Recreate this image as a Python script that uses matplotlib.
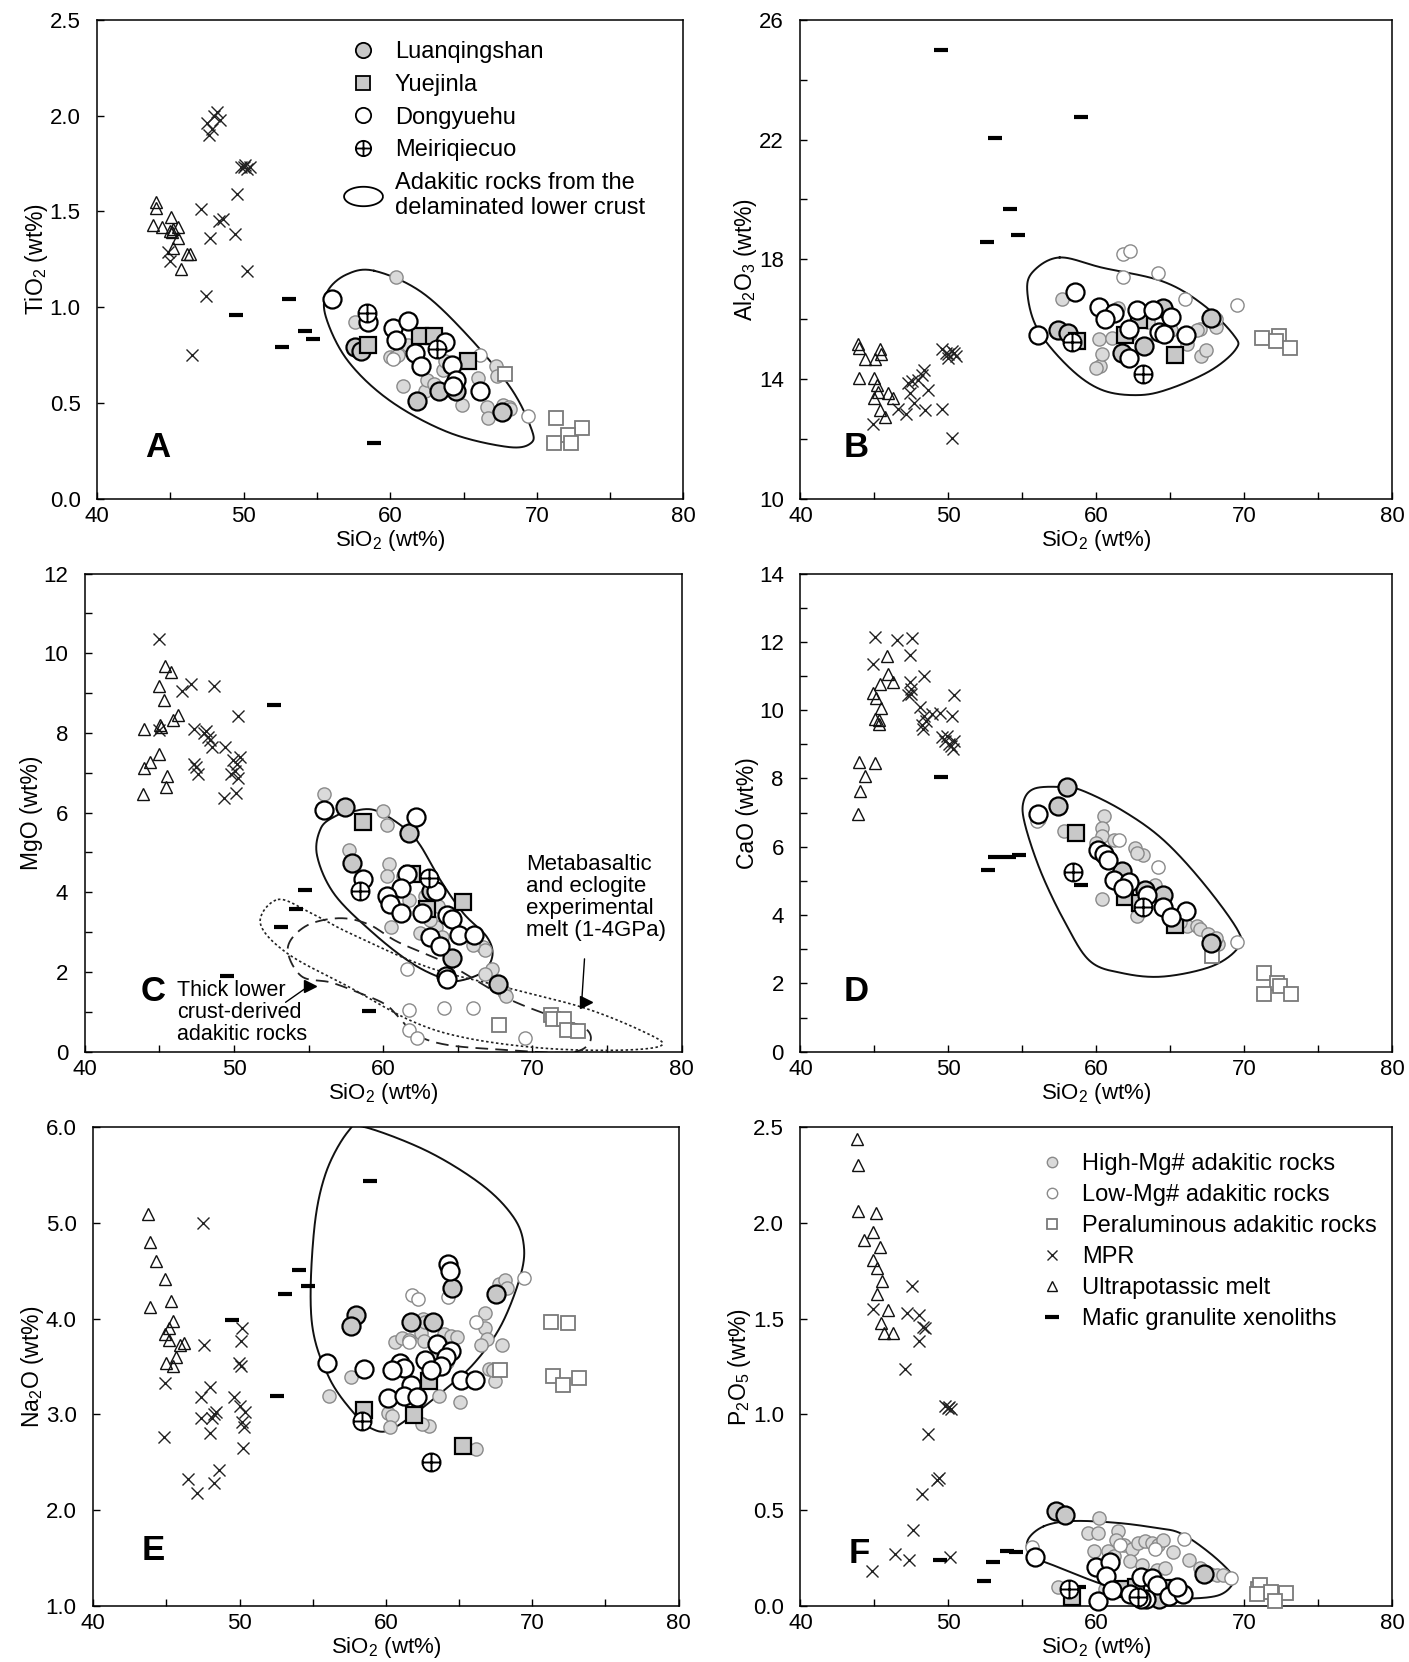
import numpy as np
import matplotlib
matplotlib.use("Agg")
import matplotlib.pyplot as plt
from matplotlib.path import Path
from matplotlib.lines import Line2D

plt.rcParams['font.family'] = ['Liberation Sans', 'DejaVu Sans']
plt.rcParams['mathtext.fontset'] = 'custom'
plt.rcParams['mathtext.rm'] = 'Liberation Sans'
plt.rcParams['mathtext.it'] = 'Liberation Sans'
plt.rcParams['mathtext.bf'] = 'Liberation Sans:bold'

# ---------------- data (SiO2, oxide) ----------------
# A  TiO2
tio2_hmg = [(60.4,1.16),(57.6,0.92),(60.0,0.74),(60.3,0.74),(60.5,0.75),(60.9,0.59),(61.9,0.72),(62.4,0.56),(62.5,0.62),(63.6,0.67),(63.7,0.72),(64.0,0.69),(64.9,0.49),(66.0,0.63),(67.2,0.69),(67.3,0.64),(66.6,0.48),(66.7,0.42),(67.7,0.49),(68.1,0.48),(68.2,0.47),(61.2,0.80),(63.0,0.60)]
tio2_lmg = [(66.1,0.75),(69.4,0.43),(60.2,0.73),(64.5,0.57)]
tio2_per = [(67.8,0.65),(71.3,0.42),(73.1,0.37),(72.1,0.33),(72.3,0.29),(71.2,0.29)]
tio2_mpr = [(47.5,1.96),(47.8,1.93),(48.0,2.0),(48.2,2.02),(48.4,1.98),(47.6,1.90),(49.8,1.73),(50.0,1.73),(50.1,1.74),(50.2,1.72),(50.4,1.73),(49.55,1.59),(47.1,1.51),(48.3,1.45),(48.6,1.46),(49.4,1.38),(47.7,1.36),(44.8,1.29),(45.0,1.24),(50.2,1.19),(47.4,1.06),(46.5,0.75)]
tio2_upm = [(44.0,1.55),(44.0,1.52),(43.8,1.43),(44.4,1.42),(45.05,1.47),(44.97,1.40),(45.2,1.41),(45.5,1.42),(45.1,1.39),(45.5,1.36),(45.2,1.31),(46.1,1.28),(46.3,1.28),(45.7,1.20)]
tio2_mgx = [(53.1,1.04),(49.5,0.96),(54.15,0.875),(54.7,0.836),(52.6,0.79),(58.9,0.29)]
tio2_lqs = [(57.6,0.79),(58.0,0.77),(61.8,0.51),(63.3,0.56),(64.5,0.56),(67.6,0.45)]
tio2_yjl = [(58.5,0.80),(62.0,0.85),(63.0,0.85),(65.3,0.72)]
tio2_dyh = [(56.0,1.04),(58.5,0.92),(60.2,0.89),(61.2,0.93),(60.4,0.83),(61.7,0.76),(62.1,0.69),(63.7,0.82),(64.2,0.70),(64.5,0.62),(64.3,0.59),(66.1,0.56)]
tio2_mrq = [(58.4,0.97),(63.2,0.78)]
tio2_field = [(58.9,1.19),(62.1,1.08),(65.3,0.85),(68.2,0.58),(69.6,0.37),(69.6,0.29),(68.0,0.27),(64.0,0.345),(60.0,0.51),(57.1,0.72),(55.6,0.95),(55.7,1.08),(57.0,1.17)]

# B  Al2O3
al_hmg = [(57.67,16.67),(60.22,15.34),(61.1,15.36),(60.27,14.43),(60.4,14.83),(60.0,14.37),(66.99,15.68),(66.85,15.62),(68.08,15.73),(67.12,14.77),(67.4,14.96),(65.07,15.62),(66.16,15.17),(61.5,16.36),(63.5,15.9),(62.3,15.5)]
al_lmg = [(61.78,18.17),(62.27,18.26),(61.78,17.40),(64.19,17.55),(66.03,16.66),(69.53,16.47),(68.08,16.02)]
al_per = [(71.23,15.36),(72.33,15.43),(72.14,15.28),(73.1,15.02)]
al_mpr = [(44.93,12.50),(46.63,13.0),(47.12,12.84),(47.26,13.86),(47.53,13.92),(47.95,13.97),(48.22,14.14),(48.36,14.31),(47.4,13.52),(47.67,13.18),(48.4,12.95),(48.63,13.63),(49.59,13.0),(50.27,12.02),(49.6,14.99),(49.86,14.88),(50.0,14.82),(50.22,14.94),(50.41,14.86),(50.55,14.77),(50.0,14.71)]
al_upm = [(43.92,15.16),(43.97,15.05),(45.40,14.99),(45.48,14.82),(44.38,14.65),(45.07,14.65),(43.97,14.03),(45.0,14.03),(45.15,13.8),(45.26,13.58),(45.9,13.52),(46.25,13.35),(45.0,13.35),(45.35,12.95),(45.75,12.72)]
al_mgx = [(49.53,25.0),(58.99,22.75),(53.15,22.05),(54.16,19.68),(54.74,18.82),(52.63,18.57)]
al_lqs = [(57.4,15.62),(58.08,15.54),(61.73,14.88),(63.2,15.1),(64.52,16.36),(67.73,16.04)]
al_yjl = [(58.71,15.28),(61.92,15.47),(62.88,15.96),(65.34,14.79)]
al_dyh = [(56.08,15.47),(58.58,16.92),(60.19,16.41),(61.23,16.19),(60.6,16.0),(62.74,16.3),(63.84,16.3),(65.07,16.07),(62.19,15.68),(64.25,15.56),(64.6,15.5),(66.08,15.47),(62.19,14.71)]
al_mrq = [(58.36,15.24),(63.15,14.18)]
al_field = [(57.53,18.06),(60.4,17.72),(64.5,17.26),(67.26,16.47),(69.32,15.45),(69.45,15.0),(67.8,14.3),(65.07,13.69),(62.9,13.46),(60.4,13.63),(58.2,14.37),(56.03,15.67),(55.34,16.92),(55.75,17.6)]

# C  MgO
mgo_hmg = [(56.0,6.46),(60.0,6.03),(60.26,5.69),(57.7,5.06),(60.39,4.72),(60.26,4.42),(61.7,3.82),(60.52,3.12),(62.43,2.97),(63.53,3.14),(63.92,2.89),(66.66,2.63),(66.8,2.55),(66.01,2.68),(67.32,2.08),(66.8,1.95),(68.1,1.49),(68.24,1.40),(63.66,3.65),(63.14,3.31),(61.3,4.4),(62.8,3.9)]
mgo_lmg = [(61.57,2.08),(61.75,1.04),(64.1,1.10),(66.01,1.10),(61.75,0.55),(62.27,0.34),(69.49,0.34)]
mgo_per = [(67.76,0.68),(71.24,0.93),(71.37,0.81),(72.1,0.83),(72.29,0.55),(73.07,0.51)]
mgo_mpr = [(44.97,10.35),(47.11,9.24),(46.48,9.05),(48.63,9.18),(50.25,8.43),(47.32,8.11),(47.97,7.99),(48.24,7.9),(48.37,7.82),(48.5,7.65),(48.1,8.05),(44.97,8.07),(49.41,7.65),(47.32,7.22),(47.45,7.14),(47.58,6.97),(49.93,7.31),(50.2,7.22),(50.07,7.05),(50.41,7.39),(49.8,6.97),(50.25,6.88),(49.36,6.37),(50.14,6.5)]
mgo_upm = [(45.36,9.69),(45.75,9.53),(44.97,9.18),(45.28,8.82),(43.97,8.11),(45.02,8.2),(45.1,8.16),(45.88,8.33),(46.27,8.45),(44.97,7.48),(44.39,7.26),(43.97,7.12),(45.49,6.92),(45.44,6.64),(43.87,6.46)]
mgo_mgx = [(52.68,8.69),(54.77,4.06),(54.12,3.59),(53.15,3.13),(49.54,1.91),(59.03,1.02)]
mgo_lqs = [(57.46,6.14),(61.7,5.5),(57.9,4.73),(63.2,4.04),(64.58,2.34),(67.71,1.70)]
mgo_yjl = [(58.61,5.76),(61.9,4.46),(65.36,3.76),(62.95,3.57)]
mgo_dyh = [(56.0,6.06),(62.22,5.9),(58.61,4.33),(61.57,4.46),(61.18,4.12),(60.26,3.91),(60.47,3.71),(61.18,3.48),(63.53,4.04),(64.26,3.44),(64.58,3.34),(63.14,2.89),(63.79,2.65),(65.1,2.93),(66.09,2.93),(64.18,1.91),(64.3,1.83),(62.6,3.48)]
mgo_mrq = [(58.43,4.04),(63.06,4.35)]
mgo_field = [(57.52,5.99),(59.35,6.07),(61.44,5.61),(62.48,5.18),(63.79,4.33),(65.36,3.48),(66.93,2.89),(67.32,2.42),(66.67,2.0),(65.1,1.78),(64.05,1.83),(61.96,2.21),(59.35,2.97),(56.73,3.95),(55.56,4.93),(55.82,5.61),(56.73,5.9)]
mgo_melt = [(52.94,3.82),(55.16,3.48),(57.78,2.97),(63.0,2.12),(68.24,1.61),(73.46,1.10),(77.4,0.51),(78.69,0.17),(76.08,0.04),(70.85,0.085),(65.62,0.34),(61.96,0.76),(57.78,1.61),(53.6,2.46),(51.76,3.23)]
mgo_thick = [(53.6,2.6),(54.8,3.15),(57.0,3.35),(59.0,3.2),(61.0,2.75),(64.3,2.21),(68.2,1.36),(71.6,0.85),(73.5,0.6),(73.85,0.25),(72.5,-0.02),(68.0,0.05),(64.3,0.17),(62.22,0.42),(61.18,0.81),(60.13,1.19),(58.3,1.49),(56.47,1.74),(54.5,1.9)]

# D  CaO
cao_hmg = [(60.55,6.89),(60.36,6.56),(60.41,6.31),(57.81,6.46),(61.23,6.21),(62.6,5.97),(63.15,5.77),(62.74,5.82),(60.41,4.48),(63.97,4.88),(66.16,3.69),(66.85,3.69),(66.99,3.59),(67.53,3.44),(68.22,3.14),(68.08,3.34),(64.52,4.43),(64.8,4.13),(62.74,3.98),(60.0,6.12),(56.1,6.8),(65.7,3.8)]
cao_lmg = [(61.51,6.19),(64.19,5.4),(69.53,3.22),(56.03,6.76)]
cao_per = [(67.81,2.79),(71.32,2.30),(72.25,2.0),(72.41,1.93),(71.37,1.70),(73.15,1.70)]
cao_mpr = [(45.01,12.14),(44.88,11.35),(46.52,12.04),(47.53,12.11),(47.4,11.62),(48.36,11.0),(47.4,10.82),(47.48,10.62),(47.26,10.43),(47.48,10.48),(48.08,10.08),(48.36,9.83),(48.22,9.58),(48.3,9.44),(48.49,9.68),(48.9,9.88),(49.45,9.93),(50.22,9.83),(50.36,10.43),(49.6,9.2),(49.75,9.1),(49.9,9.25),(50.05,9.0),(50.15,8.95),(50.3,8.85),(50.4,9.1)]
cao_upm = [(45.84,11.59),(45.9,11.07),(46.25,10.82),(45.4,10.77),(44.93,10.5),(45.12,10.36),(45.48,10.06),(45.01,9.73),(45.34,9.7),(45.29,9.6),(43.97,8.49),(45.01,8.44),(44.38,8.07),(44.03,7.62),(43.89,6.96)]
cao_mgx = [(49.53,8.05),(52.68,5.32),(53.15,5.69),(54.11,5.69),(54.79,5.77),(58.99,4.88)]
cao_lqs = [(58.0,7.75),(57.4,7.19),(61.73,5.29),(63.29,4.73),(64.52,4.58),(67.73,3.19)]
cao_yjl = [(58.63,6.41),(61.92,4.53),(62.96,4.35),(65.34,3.72)]
cao_dyh = [(56.08,6.96),(60.14,5.92),(60.55,5.8),(60.82,5.62),(61.23,5.02),(62.19,4.97),(63.42,4.58),(64.52,4.23),(66.08,4.13),(61.78,4.78),(65.07,3.93)]
cao_mrq = [(58.44,5.27),(63.15,4.23)]
cao_field = [(57.67,7.75),(59.04,7.65),(61.78,7.06),(64.52,6.21),(67.26,4.93),(69.59,3.54),(69.59,3.04),(67.81,2.50),(64.52,2.20),(61.78,2.30),(59.59,2.65),(57.95,3.74),(56.3,5.22),(55.21,6.61),(55.07,7.3),(55.8,7.7)]

# E  Na2O
na_hmg = [(56.08,3.19),(57.63,3.39),(60.6,3.76),(61.1,3.8),(61.6,3.78),(62.4,3.85),(62.6,3.77),(62.5,4.0),(62.7,3.97),(64.0,3.84),(64.48,3.82),(64.88,3.81),(66.75,4.06),(66.8,3.9),(66.93,3.79),(66.53,3.73),(67.07,3.47),(67.47,3.35),(67.33,3.46),(67.92,3.73),(67.73,4.36),(68.13,4.4),(68.27,4.32),(63.6,3.19),(65.07,3.13),(60.13,3.02),(60.4,2.98),(60.27,2.87),(62.93,2.88),(62.48,2.9),(66.13,2.64),(63.3,3.6),(64.2,3.55)]
na_lmg = [(61.79,4.25),(62.2,4.21),(64.27,4.23),(69.47,4.42),(66.13,3.97),(61.6,3.76)]
na_per = [(71.28,3.97),(72.45,3.95),(67.81,3.46),(71.39,3.40),(72.13,3.31),(73.2,3.38)]
na_mpr = [(47.47,5.0),(47.6,3.73),(44.93,3.33),(44.8,2.76),(47.95,3.29),(47.33,3.18),(47.33,2.96),(48.0,2.81),(48.27,3.0),(48.4,3.03),(48.13,2.96),(50.13,3.9),(50.08,3.77),(49.95,3.54),(50.08,3.51),(49.6,3.18),(50.0,3.09),(50.4,3.03),(50.13,2.92),(50.27,2.87),(50.21,2.65),(46.48,2.33),(47.12,2.18),(48.27,2.28),(48.61,2.42)]
na_upm = [(43.73,5.09),(43.87,4.80),(44.27,4.60),(44.93,4.41),(43.87,4.12),(45.28,4.18),(45.47,3.98),(45.2,3.9),(44.88,3.84),(45.15,3.78),(45.95,3.73),(46.21,3.75),(45.68,3.6),(44.99,3.54),(45.47,3.51)]
na_mgx = [(58.93,5.44),(54.08,4.51),(54.67,4.34),(53.07,4.26),(49.47,3.99),(52.59,3.19)]
na_lqs = [(57.95,4.04),(57.6,3.92),(64.53,4.32),(67.55,4.26),(61.68,3.97),(63.2,3.97)]
na_yjl = [(58.53,3.05),(62.93,3.35),(61.95,2.99),(65.25,2.67)]
na_dyh = [(55.95,3.54),(58.48,3.47),(64.27,4.57),(64.35,4.5),(63.47,3.74),(64.48,3.66),(64.13,3.6),(63.73,3.51),(62.67,3.57),(63.07,3.46),(60.93,3.54),(61.25,3.49),(60.4,3.46),(61.68,3.31),(60.13,3.17),(61.25,3.19),(62.13,3.18),(65.15,3.36),(66.08,3.36)]
na_mrq = [(58.35,2.93),(63.07,2.5)]
na_field = [(58.53,6.0),(62.8,5.75),(66.53,5.40),(68.67,5.07),(69.41,4.78),(69.2,4.45),(67.87,3.93),(66.0,3.53),(63.87,3.24),(61.73,2.98),(60.13,2.83),(59.07,2.85),(58.0,2.98),(56.13,3.38),(54.93,3.97),(55.07,4.89),(55.87,5.51),(57.4,5.95)]

# F  P2O5
p_hmg = [(60.22,0.462),(59.46,0.38),(60.14,0.38),(61.5,0.393),(59.86,0.29),(60.82,0.29),(61.36,0.344),(61.9,0.317),(62.45,0.30),(62.8,0.33),(63.3,0.34),(63.8,0.33),(64.2,0.32),(64.5,0.345),(62.31,0.236),(63.13,0.217),(64.08,0.19),(64.63,0.199),(65.17,0.281),(66.3,0.24),(67.0,0.2),(67.4,0.18),(67.7,0.17),(68.2,0.165),(68.6,0.16),(57.41,0.10),(60.6,0.09),(61.2,0.26)]
p_lmg = [(65.93,0.353),(63.95,0.299),(55.65,0.308),(69.12,0.145),(61.6,0.32)]
p_per = [(70.94,0.091),(71.1,0.109),(71.84,0.072),(72.84,0.067),(72.1,0.027),(70.89,0.063)]
p_mpr = [(47.56,1.67),(44.9,1.549),(47.21,1.53),(48.03,1.52),(48.3,1.458),(48.44,1.449),(48.03,1.386),(47.07,1.237),(49.8,1.045),(49.95,1.035),(50.05,1.04),(50.2,1.03),(48.63,0.897),(49.39,0.67),(49.25,0.66),(48.24,0.585),(47.62,0.399),(46.39,0.272),(47.35,0.241),(50.12,0.259),(44.82,0.185)]
p_upm = [(43.81,2.44),(43.89,2.30),(43.89,2.06),(45.09,2.05),(44.3,1.91),(44.9,1.95),(45.36,1.875),(44.9,1.806),(45.17,1.766),(45.52,1.694),(45.17,1.63),(45.93,1.543),(45.44,1.476),(45.63,1.426),(46.26,1.426)]
p_mgx = [(49.44,0.241),(53.0,0.23),(52.44,0.13),(53.96,0.286),(54.6,0.281),(58.86,0.10)]
p_lqs = [(57.28,0.498),(57.88,0.476),(67.29,0.167),(64.22,0.036)]
p_yjl = [(58.37,0.049),(61.69,0.091),(62.72,0.10),(64.98,0.096)]
p_dyh = [(55.84,0.259),(60.0,0.205),(60.95,0.23),(60.63,0.158),(60.14,0.027),(61.09,0.082),(62.31,0.063),(63.0,0.154),(63.8,0.145),(64.08,0.109),(64.9,0.054),(65.85,0.063),(65.44,0.10),(63.4,0.036),(63.0,0.036)]
p_mrq = [(58.18,0.087),(62.86,0.049)]
p_field = [(56.46,0.417),(58.37,0.444),(61.36,0.435),(64.08,0.408),(65.71,0.38),(67.62,0.281),(69.12,0.172),(69.25,0.118),(68.16,0.054),(65.44,0.04),(62.72,0.063),(60.27,0.118),(57.55,0.2),(55.65,0.263),(55.37,0.344)]

# ---------------- styles ----------------
circ = Path.unit_circle()
oplus = Path(np.vstack([circ.vertices, [[-1, 0], [1, 0], [0, -1], [0, 1]]]),
             np.concatenate([circ.codes, [Path.MOVETO, Path.LINETO, Path.MOVETO, Path.LINETO]]))
t = np.linspace(0, 2 * np.pi, 60)
ellipse_marker = Path(np.column_stack([np.cos(t), 0.5 * np.sin(t)]))

sty = {
    'hmg': dict(marker='o', ms=9.5, mfc='#dadada', mec='#8a8a8a', mew=1.0),
    'lmg': dict(marker='o', ms=9.5, mfc='white', mec='#8a8a8a', mew=1.0),
    'per': dict(marker='s', ms=9.5, mfc='white', mec='#7a7a7a', mew=1.3),
    'mpr': dict(marker='x', ms=9, mfc='none', mec='#222222', mew=1.0),
    'upm': dict(marker='^', ms=8.5, mfc='none', mec='#111111', mew=1.0),
    'mgx': dict(marker='_', ms=10, mec='black', mew=3),
    'lqs': dict(marker='o', ms=13, mfc='#c8c8c8', mec='black', mew=1.6),
    'yjl': dict(marker='s', ms=12, mfc='#c8c8c8', mec='black', mew=1.6),
    'dyh': dict(marker='o', ms=13, mfc='white', mec='black', mew=1.6),
    'mrq': dict(marker=oplus, ms=13, mfc='white', mec='black', mew=1.4),
}


def smooth_closed(pts, n=40):
    p = np.array(pts, dtype=float)
    m = len(p)
    tt = np.linspace(0, 1, n, endpoint=False)[:, None]
    seg = []
    for i in range(m):
        p0, p1, p2, p3 = p[i - 1], p[i], p[(i + 1) % m], p[(i + 2) % m]
        seg.append(0.5 * (2 * p1 + (-p0 + p2) * tt + (2 * p0 - 5 * p1 + 4 * p2 - p3) * tt ** 2
                          + (-p0 + 3 * p1 - 3 * p2 + p3) * tt ** 3))
    out = np.vstack(seg)
    return np.vstack([out, out[:1]])


def draw(ax, groups, field):
    c = smooth_closed(field)
    ax.plot(c[:, 0], c[:, 1], color='#111111', lw=1.4, zorder=2)
    order = ['hmg', 'lmg', 'per', 'mpr', 'upm', 'mgx', 'lqs', 'yjl', 'dyh', 'mrq']
    for z, key in enumerate(order):
        xs, ys = zip(*groups[key])
        ax.plot(xs, ys, ls='none', zorder=3 + z, clip_on=False, **sty[key])


def style_axes(ax, ylim, yticks, yminor, ylabel, fmt, letter, lpos):
    ax.set_xlim(40, 80)
    ax.set_ylim(*ylim)
    ax.set_xticks([40, 50, 60, 70, 80])
    ax.set_xticks([45, 55, 65, 75], minor=True)
    ax.set_yticks(yticks)
    ax.set_yticklabels([fmt.format(v) for v in yticks])
    if yminor:
        ax.set_yticks(yminor, minor=True)
    ax.tick_params(direction='in', length=5, width=1, labelsize=16)
    ax.tick_params(axis='y', pad=12)
    ax.tick_params(axis='x', pad=5)
    ax.tick_params(which='minor', direction='in', length=5, width=1)
    ax.set_xlabel('SiO$_2$ (wt%)', fontsize=16, labelpad=1)
    ax.set_ylabel(ylabel, fontsize=16.5, labelpad=0)
    for s in ax.spines.values():
        s.set_linewidth(1.1)
    ax.text(lpos[0], lpos[1], letter, transform=ax.transAxes, fontsize=25,
            fontweight='bold', ha='center', va='center')


fig = plt.figure(figsize=(14.09, 16.62), dpi=100)
axA = fig.add_axes([0.0690, 0.7000, 0.4160, 0.2880])
axB = fig.add_axes([0.5681, 0.7000, 0.4198, 0.2880])
axC = fig.add_axes([0.0602, 0.3672, 0.4236, 0.2877])
axD = fig.add_axes([0.5681, 0.3672, 0.4198, 0.2877])
axE = fig.add_axes([0.0662, 0.0336, 0.4154, 0.2883])
axF = fig.add_axes([0.5681, 0.0336, 0.4198, 0.2883])

draw(axA, dict(hmg=tio2_hmg, lmg=tio2_lmg, per=tio2_per, mpr=tio2_mpr, upm=tio2_upm, mgx=tio2_mgx,
               lqs=tio2_lqs, yjl=tio2_yjl, dyh=tio2_dyh, mrq=tio2_mrq), tio2_field)
style_axes(axA, (0, 2.5), [0, 0.5, 1.0, 1.5, 2.0, 2.5], None, 'TiO$_2$ (wt%)', '{:.1f}', 'A', (0.103, 0.106))

draw(axB, dict(hmg=al_hmg, lmg=al_lmg, per=al_per, mpr=al_mpr, upm=al_upm, mgx=al_mgx,
               lqs=al_lqs, yjl=al_yjl, dyh=al_dyh, mrq=al_mrq), al_field)
style_axes(axB, (10, 26), [10, 14, 18, 22, 26], [12, 16, 20, 24], 'Al$_2$O$_3$ (wt%)', '{:.0f}', 'B', (0.095, 0.106))

draw(axC, dict(hmg=mgo_hmg, lmg=mgo_lmg, per=mgo_per, mpr=mgo_mpr, upm=mgo_upm, mgx=mgo_mgx,
               lqs=mgo_lqs, yjl=mgo_yjl, dyh=mgo_dyh, mrq=mgo_mrq), mgo_field)
style_axes(axC, (0, 12), [0, 2, 4, 6, 8, 10, 12], [1, 3, 5, 7, 9, 11], 'MgO (wt%)', '{:.0f}', 'C', (0.115, 0.126))
cm = smooth_closed(mgo_melt)
axC.plot(cm[:, 0], cm[:, 1], color='#222222', lw=1.2, ls=(0, (1.5, 1.5)), zorder=2)
ct = smooth_closed(mgo_thick)
axC.plot(ct[:, 0], ct[:, 1], color='#222222', lw=1.3, ls=(0, (7, 4)), zorder=2)
axC.text(69.6, 4.95, 'Metabasaltic\nand eclogite\nexperimental\nmelt (1-4GPa)', fontsize=16,
         ha='left', va='top', linespacing=1.05)
axC.text(46.2, 1.8, 'Thick lower\ncrust-derived\nadakitic rocks', fontsize=15.5,
         ha='left', va='top', linespacing=1.05)
axC.annotate('', xy=(73.3, 1.25), xytext=(73.5, 2.4),
             arrowprops=dict(arrowstyle='-', color='black', lw=1.0))
axC.plot([73.6], [1.25], marker='>', ms=8, color='black', ls='none')
axC.annotate('', xy=(54.9, 1.62), xytext=(53.3, 1.2),
             arrowprops=dict(arrowstyle='-', color='black', lw=1.0))
axC.plot([55.1], [1.66], marker='>', ms=8, color='black', ls='none')

draw(axD, dict(hmg=cao_hmg, lmg=cao_lmg, per=cao_per, mpr=cao_mpr, upm=cao_upm, mgx=cao_mgx,
               lqs=cao_lqs, yjl=cao_yjl, dyh=cao_dyh, mrq=cao_mrq), cao_field)
style_axes(axD, (0, 14), [0, 2, 4, 6, 8, 10, 12, 14], [1, 3, 5, 7, 9, 11, 13], 'CaO (wt%)', '{:.0f}', 'D', (0.095, 0.126))

draw(axE, dict(hmg=na_hmg, lmg=na_lmg, per=na_per, mpr=na_mpr, upm=na_upm, mgx=na_mgx,
               lqs=na_lqs, yjl=na_yjl, dyh=na_dyh, mrq=na_mrq), na_field)
style_axes(axE, (1, 6), [1, 2, 3, 4, 5, 6], None, 'Na$_2$O (wt%)', '{:.1f}', 'E', (0.103, 0.117))

draw(axF, dict(hmg=p_hmg, lmg=p_lmg, per=p_per, mpr=p_mpr, upm=p_upm, mgx=p_mgx,
               lqs=p_lqs, yjl=p_yjl, dyh=p_dyh, mrq=p_mrq), p_field)
style_axes(axF, (0, 2.5), [0, 0.5, 1.0, 1.5, 2.0, 2.5], None, 'P$_2$O$_5$ (wt%)', '{:.1f}', 'F', (0.099, 0.11))

# legend A
legA = dict(ms=11)
hA = [Line2D([], [], ls='none', **{**sty['lqs'], **legA, 'mew': 1.3}),
      Line2D([], [], ls='none', **{**sty['yjl'], 'ms': 10, 'mew': 1.3}),
      Line2D([], [], ls='none', **{**sty['dyh'], **legA, 'mew': 1.3}),
      Line2D([], [], ls='none', **{**sty['mrq'], **legA, 'mew': 1.3}),
      Line2D([], [], ls='none', marker=ellipse_marker, ms=28, mfc='none', mec='black', mew=1.3)]
axA.legend(hA, ['Luanqingshan', 'Yuejinla', 'Dongyuehu', 'Meiriqiecuo',
                'Adakitic rocks from the\ndelaminated lower crust'],
           loc='upper left', bbox_to_anchor=(0.385, 0.99), frameon=False, fontsize=17,
           handlelength=2.0, handletextpad=0.35, labelspacing=0.45, borderaxespad=0.3)

# legend F
small = dict(ms=7.5)
hF = [Line2D([], [], ls='none', **{**sty['hmg'], **small}),
      Line2D([], [], ls='none', **{**sty['lmg'], **small}),
      Line2D([], [], ls='none', **{**sty['per'], **small}),
      Line2D([], [], ls='none', **{**sty['mpr'], **small}),
      Line2D([], [], ls='none', **{**sty['upm'], **small}),
      Line2D([], [], ls='none', **{**sty['mgx'], 'ms': 10})]
axF.legend(hF, ['High-Mg# adakitic rocks', 'Low-Mg# adakitic rocks', 'Peraluminous adakitic rocks',
                'MPR', 'Ultrapotassic melt', 'Mafic granulite xenoliths'],
           loc='upper left', bbox_to_anchor=(0.37, 0.98), frameon=False, fontsize=17,
           handlelength=1.4, handletextpad=0.55, labelspacing=0.38, borderaxespad=0.3)

fig.savefig('out.png', dpi=100)
